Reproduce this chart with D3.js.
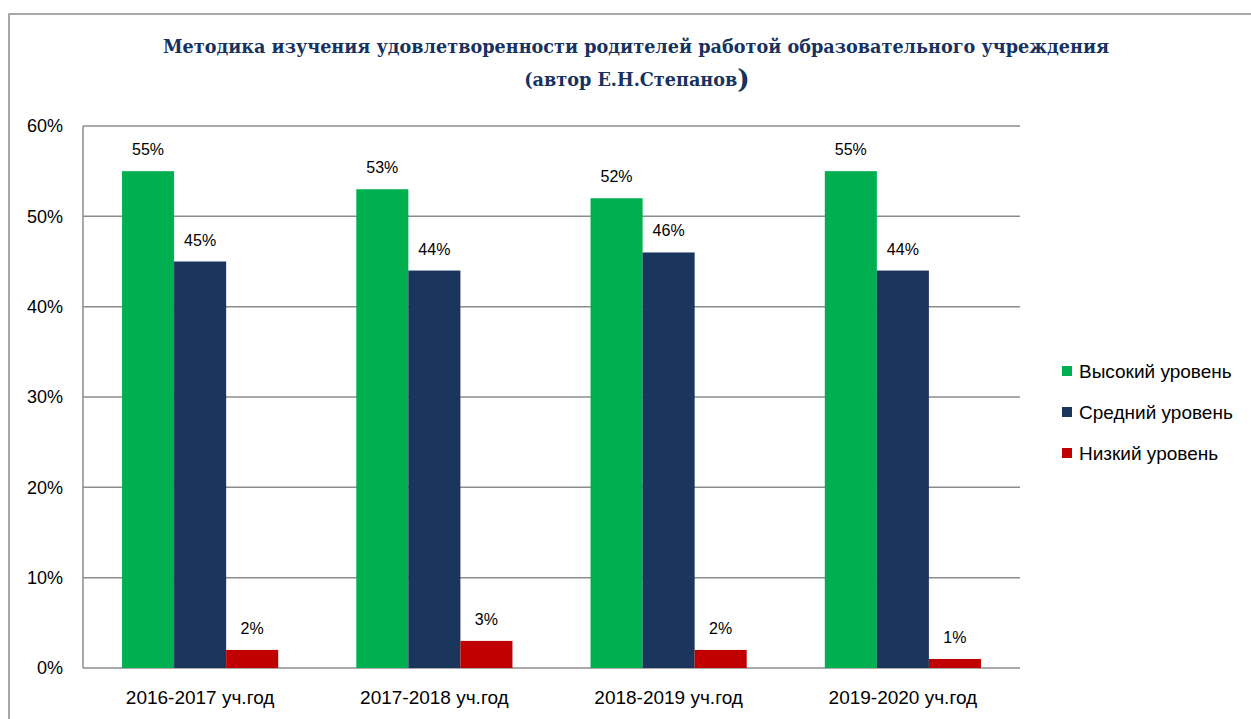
<!DOCTYPE html>
<html>
<head>
<meta charset="utf-8">
<script src="https://cdn.jsdelivr.net/npm/d3@7"></script>
<style>
  body { margin: 0; background: #fff; }
  svg { display: block; }
  .lbl { font-family: "Liberation Sans", Arial, sans-serif; fill: #000; }
</style>
</head>
<body>
<svg id="chart" width="1251" height="719"></svg>
<script>
var categories = ['2016-2017 уч.год', '2017-2018 уч.год', '2018-2019 уч.год', '2019-2020 уч.год'];
var seriesNames = ['Высокий уровень', 'Средний уровень', 'Низкий уровень'];
var seriesColors = ['#00B050', '#1B365D', '#C00000'];
var high = [55, 53, 52, 55];
var middle = [45, 44, 46, 44];
var low = [2, 3, 2, 1];
var yTicks = [0, 10, 20, 30, 40, 50, 60];

var series = [high, middle, low];

var svg = d3.select('#chart');
var plot = {left: 83, right: 1020, top: 126, bottom: 668};

// outer frame, runs off the right and bottom edge like the original
svg.append('rect')
    .attr('x', 9).attr('y', 14)
    .attr('width', 1300).attr('height', 800)
    .attr('fill', 'none')
    .attr('stroke', '#8c8c8c')
    .attr('stroke-width', 1.5);

// title
var title = svg.append('text')
    .attr('text-anchor', 'middle')
    .style('font-family', '"DejaVu Serif", "Liberation Serif", serif')
    .style('font-weight', 'bold')
    .style('fill', '#17325F');
title.append('tspan')
    .attr('x', 636).attr('y', 53)
    .style('font-size', '18px')
    .text('Методика изучения удовлетворенности родителей работой образовательного учреждения');
title.append('tspan')
    .attr('x', 637).attr('y', 86)
    .style('font-size', '18px')
    .text('(автор Е.Н.Степанов');
title.append('tspan')
    .style('font-size', '27px')
    .attr('dy', 2)
    .text(')');

// fit first title line to the original width
var line1 = title.select('tspan').node();
var w = line1.getComputedTextLength();
if (Math.abs(w - 947) > 4)
    title.selectAll('tspan').style('font-size', function(d, i) {
        return (i == 2 ? 27 : 18) * 947 / w + 'px';
    });

var x0 = d3.scaleBand()
    .domain(categories)
    .range([plot.left, plot.right])
    .paddingInner(1 / 3)
    .paddingOuter(1 / 6);

var x1 = d3.scaleBand()
    .domain(d3.range(series.length))
    .range([0, x0.bandwidth()]);

var y = d3.scaleLinear()
    .domain([0, 60])
    .range([plot.bottom, plot.top]);

// gridlines
svg.append('g')
    .selectAll('line')
    .data(yTicks)
    .enter().append('line')
    .attr('x1', plot.left).attr('x2', plot.right)
    .attr('y1', function(d) { return y(d); })
    .attr('y2', function(d) { return y(d); })
    .attr('stroke', '#8c8c8c')
    .attr('stroke-width', 1.5);

svg.append('line')
    .attr('x1', plot.left).attr('x2', plot.left)
    .attr('y1', plot.top).attr('y2', plot.bottom)
    .attr('stroke', '#8c8c8c')
    .attr('stroke-width', 1.5);

// y tick labels
svg.append('g')
    .selectAll('text')
    .data(yTicks)
    .enter().append('text')
    .attr('class', 'lbl')
    .attr('x', 63)
    .attr('y', function(d) { return y(d); })
    .attr('dy', '0.35em')
    .attr('text-anchor', 'end')
    .style('font-size', '18px')
    .text(function(d) { return d + '%'; });

// bars
var groups = svg.append('g')
    .selectAll('g')
    .data(categories)
    .enter().append('g')
    .attr('transform', function(d) { return 'translate(' + x0(d) + ',0)'; });

var cells = groups.selectAll('g')
    .data(function(d, i) {
        return series.map(function(s, j) { return {s: j, v: s[i]}; });
    })
    .enter().append('g');

cells.append('rect')
    .attr('x', function(d) { return x1(d.s); })
    .attr('y', function(d) { return y(d.v); })
    .attr('width', x1.bandwidth())
    .attr('height', function(d) { return y(0) - y(d.v); })
    .attr('fill', function(d) { return seriesColors[d.s]; });

cells.append('text')
    .attr('class', 'lbl')
    .attr('x', function(d) { return x1(d.s) + x1.bandwidth() / 2; })
    .attr('y', function(d) { return y(d.v) - 16; })
    .attr('text-anchor', 'middle')
    .style('font-size', '16px')
    .text(function(d) { return d.v + '%'; });

// category labels
svg.append('g')
    .selectAll('text')
    .data(categories)
    .enter().append('text')
    .attr('class', 'lbl')
    .attr('x', function(d) { return x0(d) + x0.bandwidth() / 2; })
    .attr('y', 704)
    .attr('text-anchor', 'middle')
    .style('font-size', '19px')
    .text(function(d) { return d; });

// legend
var legend = svg.append('g')
    .selectAll('g')
    .data(seriesNames)
    .enter().append('g')
    .attr('transform', function(d, i) { return 'translate(1062,' + (371 + i * 41) + ')'; });

legend.append('rect')
    .attr('x', 0).attr('y', -5)
    .attr('width', 10).attr('height', 10)
    .attr('fill', function(d, i) { return seriesColors[i]; });

legend.append('text')
    .attr('class', 'lbl')
    .attr('x', 17)
    .attr('dy', '0.35em')
    .style('font-size', '19px')
    .text(function(d) { return d; });
</script>
</body>
</html>
